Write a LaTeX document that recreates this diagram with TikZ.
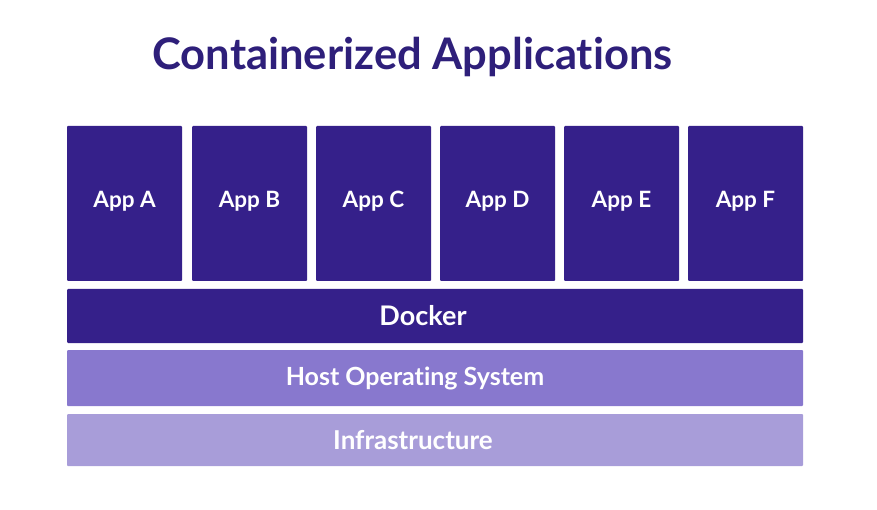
\documentclass[tikz,border=0pt]{standalone}
\usepackage{fontspec}
\setmainfont{Lato}[Ligatures={NoCommon}]
\definecolor{appblue}{RGB}{53,32,138}
\definecolor{titleblue}{RGB}{46,31,122}
\definecolor{hostpurple}{RGB}{136,120,206}
\definecolor{infrapurple}{RGB}{168,157,217}
\tikzset{
  layer/.style={rectangle, rounded corners=1pt, inner sep=0pt},
  appbox/.style={layer, fill=appblue, minimum width=115pt, minimum height=155pt},
  barbox/.style={layer, minimum width=736pt},
  bartext/.style={text=white, font=\bfseries\fontsize{#1}{#1}\selectfont}
}
\begin{document}
\begin{tikzpicture}[x=1pt,y=-1pt]
  \useasboundingbox (0,0) rectangle (877,510);
  \node[text=titleblue, font=\bfseries\fontsize{43.5}{50}\selectfont] (title) at (412.5,57) {Containerized Applications};
  \foreach \name/\x in {A/124.5, B/249.5, C/373.5, D/497.5, E/621.5, F/745.5}
    \node[appbox, label={[bartext=22.5, yshift=2pt]center:App \name}] (app\name) at (\x,203.5) {};
  \node[barbox, fill=appblue, minimum height=54pt,
    label={[bartext=27, xshift=-12pt]center:Docker}] (docker) at (435,316) {};
  \node[barbox, fill=hostpurple, minimum height=56pt,
    label={[bartext=25, xshift=-20pt]center:Host Operating System}] (host) at (435,378) {};
  \node[barbox, fill=infrapurple, minimum height=52pt,
    label={[bartext=26, xshift=-22pt]center:Infrastructure}] (infra) at (435,440) {};
\end{tikzpicture}
\end{document}
